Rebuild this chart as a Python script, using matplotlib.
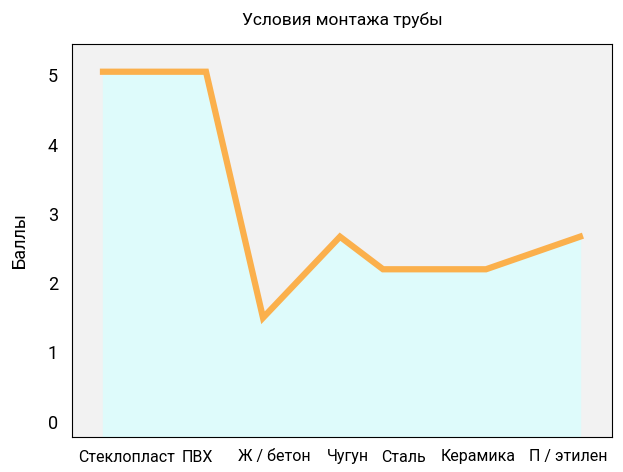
import matplotlib.pyplot as plt

plt.rcParams['font.family'] = ['Roboto', 'DejaVu Sans']

labels = ['Стеклопласт', 'ПВХ', 'Ж / бетон', 'Чугун', 'Сталь', 'Керамика', 'П / этилен']
label_pos = [127, 197, 274, 348, 403, 478, 568]
point_pos = [103, 206, 263, 340, 383, 486, 580]
scores = [5.05, 5.05, 1.5, 2.67, 2.2, 2.2, 2.67]

fig = plt.figure(figsize=(6.23, 4.72), dpi=100)
ax = fig.add_axes([72 / 623, 1 - 437 / 472, 540 / 623, 393 / 472])
ax.set_facecolor('#f2f2f2')
ax.fill_between(point_pos, scores, -1, color='#defbfb', zorder=1)
ax.plot(point_pos, scores, color='#fbb04c', lw=4.5, solid_joinstyle='miter', zorder=2)
ax.set_xlim(72, 612)
ax.set_ylim(-0.22, 5.45)
ax.set_xticks(label_pos)
ax.set_xticklabels(labels, fontsize=11.5)
ax.set_yticks(range(6))
ax.tick_params(axis='y', length=0, labelsize=13, pad=10)
ax.tick_params(axis='x', length=0, pad=9)
ax.set_ylabel('Баллы', fontsize=13, labelpad=14)
ax.set_title('Условия монтажа трубы', fontsize=12.5, pad=14)
fig.savefig('out.png')
